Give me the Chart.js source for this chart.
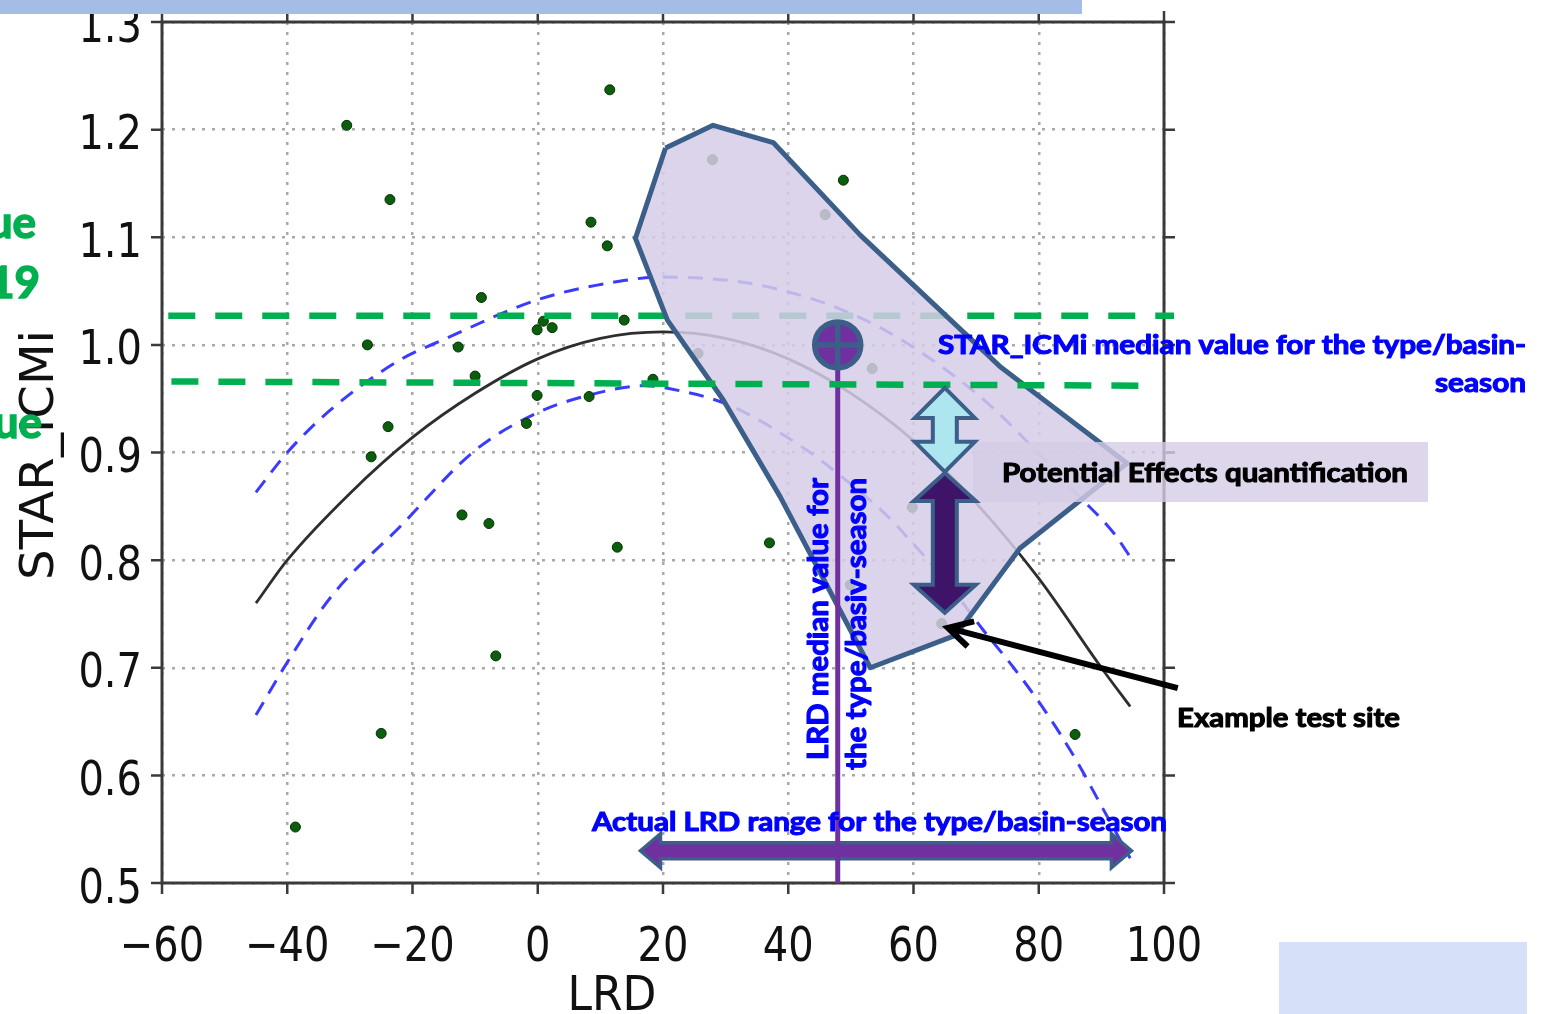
<!DOCTYPE html>
<html>
<head>
<meta charset="utf-8">
<title>STAR_ICMi vs LRD</title>
<script src="https://cdn.jsdelivr.net/npm/chart.js@4.4.1/dist/chart.umd.min.js"></script>
<style>
  html, body { margin: 0; padding: 0; background: #fff; overflow: hidden; }
  canvas { display: block; }
</style>
</head>
<body>
<canvas id="lrdChart" width="1548" height="1014"></canvas>
<script>
// ==================================================
// DATOS
// ==================================================

// sitios (puntos verdes)
const sitesLRD = [-38.7, -30.5, -27.2, -26.6, -25.0, -23.9, -23.6, -12.7, -12.1, -10.0, -9.0, -7.8, -6.7, -1.8, -0.1, -0.1, 0.9, 2.3, 8.2, 8.5, 11.1, 11.5, 12.7, 13.8, 18.4, 25.6, 27.9, 37.0, 45.9, 48.8, 49.9, 53.4, 59.8, 64.5, 85.8];
const sitesICM = [0.552, 1.204, 1.000, 0.896, 0.639, 0.924, 1.135, 0.998, 0.842, 0.971, 1.044, 0.834, 0.711, 0.927, 0.953, 1.014, 1.022, 1.016, 0.952, 1.114, 1.092, 1.237, 0.812, 1.023, 0.968, 0.992, 1.172, 0.816, 1.121, 1.153, 0.777, 0.978, 0.849, 0.741, 0.638];

// curva ajustada (negra) y bandas (azul discontinua)
const fitLRD = [-45, -40, -30, -20, -10, 0, 10, 20, 30, 40, 50, 60, 70, 80, 90, 94.6];
const fitICM = [0.760, 0.800, 0.862, 0.914, 0.955, 0.987, 1.006, 1.012, 1.006, 0.987, 0.955, 0.911, 0.853, 0.783, 0.700, 0.664];
const upperLRD = [-45, -40, -33, -22, -15, 0, 14, 20, 33, 42, 48, 55, 63, 72, 79, 86, 92, 94.6];
const upperICM = [0.863, 0.900, 0.940, 0.986, 1.005, 1.042, 1.060, 1.063, 1.058, 1.046, 1.034, 1.015, 0.986, 0.945, 0.905, 0.862, 0.825, 0.803];
const lowerLRD = [-45, -40, -33, -22, -10, 0, 8, 17, 23, 31, 43.5, 48, 56, 59.5, 65, 71, 76, 81, 86, 89.5, 94.6];
const lowerICM = [0.656, 0.705, 0.766, 0.831, 0.902, 0.937, 0.953, 0.962, 0.957, 0.943, 0.900, 0.880, 0.840, 0.818, 0.782, 0.736, 0.700, 0.660, 0.614, 0.577, 0.523];

// lineas verdes de referencia
const greenTopLRD = [-59, 101.6];
const greenTopICM = [1.027, 1.027];
const greenLowLRD = [-58.5, 99.1];
const greenLowICM = [0.966, 0.962];

// zona del tipo/cuenca-estacion
const zoneLRD = [20.4, 28.0, 37.6, 51.5, 73.8, 94.1, 77.0, 66.7, 53.1, 38.7, 29.6, 20.7, 15.6, 20.4];
const zoneICM = [1.183, 1.204, 1.188, 1.102, 0.980, 0.890, 0.811, 0.730, 0.700, 0.859, 0.949, 1.023, 1.099, 1.183];

// anotaciones
const medianLRD = 47.9;
const medianICM = 1.0;
const rangeLRD = [16.4, 94.8];
const rangeICM = 0.530;
const effectLRD = 65.0;
const effectUpper = [0.960, 0.882];
const effectLower = [0.881, 0.751];
const pointerLRD = [102.2, 65.5];
const pointerICM = [0.681, 0.737];

// ejes
const xTicks = [-60, -40, -20, 0, 20, 40, 60, 80, 100];
const xTickLabels = ['\u221260', '\u221240', '\u221220', '0', '20', '40', '60', '80', '100'];
const yTicks = [0.5, 0.6, 0.7, 0.8, 0.9, 1.0, 1.1, 1.2, 1.3];
const yTickLabels = ['0.5', '0.6', '0.7', '0.8', '0.9', '1.0', '1.1', '1.2', '1.3'];

const pts = (xs, ys) => xs.map((v, i) => ({ x: v, y: ys[i] }));

const EDGE = '#3c5f8a';
const PURPLE = '#7030a0';
const BLUE_TXT = '#0000ff';

// ==================================================
// UTILIDADES DE DIBUJO
// ==================================================

/** Texto ajustado a un ancho dado (escala horizontal), con trazo opcional para engrosar. */
function fitText(ctx, txt, x, y, w, font, color, align, rotate, heavy) {
    ctx.save();
    ctx.font = font;
    ctx.fillStyle = color;
    ctx.strokeStyle = color;
    ctx.textAlign = 'left';
    ctx.textBaseline = 'alphabetic';
    const m = ctx.measureText(txt).width;
    const off = align === 'right' ? -w : align === 'center' ? -w / 2 : 0;
    ctx.translate(x, y);
    if (rotate) ctx.rotate(-Math.PI / 2);
    ctx.translate(off, 0);
    ctx.scale(w / m, 1);
    ctx.fillText(txt, 0, 0);
    if (heavy) {
        ctx.lineWidth = heavy;
        ctx.lineJoin = 'round';
        ctx.strokeText(txt, 0, 0);
    }
    ctx.restore();
}

/** Texto estirado en vertical (etiquetas de ejes). */
function tallText(ctx, txt, x, y, align, font, sy) {
    ctx.save();
    ctx.font = font;
    ctx.fillStyle = '#111';
    ctx.textAlign = align;
    ctx.textBaseline = 'alphabetic';
    ctx.translate(x, y);
    ctx.scale(1, sy);
    ctx.fillText(txt, 0, 0);
    ctx.restore();
}

/** Flecha de doble punta, horizontal ('h') o vertical ('v'). */
function doubleArrow(ctx, dir, a, b, c, hw, bw, hl, fill, stroke, lw) {
    const p = (u, v) => dir === 'h' ? [u, v] : [v, u];
    const shape = [
        p(a, c), p(a + hl, c - hw), p(a + hl, c - bw), p(b - hl, c - bw), p(b - hl, c - hw),
        p(b, c), p(b - hl, c + hw), p(b - hl, c + bw), p(a + hl, c + bw), p(a + hl, c + hw)
    ];
    ctx.save();
    ctx.beginPath();
    shape.forEach((q, i) => i ? ctx.lineTo(q[0], q[1]) : ctx.moveTo(q[0], q[1]));
    ctx.closePath();
    ctx.fillStyle = fill;
    ctx.fill();
    ctx.lineWidth = lw;
    ctx.lineJoin = 'miter';
    ctx.strokeStyle = stroke;
    ctx.stroke();
    ctx.restore();
}

// ==================================================
// PLUGIN DE ANOTACIONES
// ==================================================
const annotate = {
    id: 'annotate',
    beforeDatasetsDraw(chart) {
        const { ctx, chartArea: a, scales: { x, y } } = chart;
        ctx.save();
        ctx.strokeStyle = '#3a3a3a';
        ctx.lineWidth = 3;
        ctx.strokeRect(a.left, a.top, a.right - a.left, a.bottom - a.top);
        ctx.lineWidth = 2.5;
        ctx.beginPath();
        xTicks.forEach(v => {
            const px = x.getPixelForValue(v);
            ctx.moveTo(px, a.bottom); ctx.lineTo(px, a.bottom + 11);
            ctx.moveTo(px, a.top); ctx.lineTo(px, a.top - 11);
        });
        yTicks.forEach(v => {
            const py = y.getPixelForValue(v);
            ctx.moveTo(a.left - 11, py); ctx.lineTo(a.left, py);
            ctx.moveTo(a.right, py); ctx.lineTo(a.right + 11, py);
        });
        ctx.stroke();
        ctx.restore();
    },
    afterDatasetDraw(chart, args) {
        if (chart.data.datasets[args.index].label !== 'zone') return;
        const { ctx, scales: { x, y } } = chart;
        // rango real de LRD
        doubleArrow(ctx, 'h', x.getPixelForValue(rangeLRD[0]), x.getPixelForValue(rangeLRD[1]),
            y.getPixelForValue(rangeICM), 17, 8, 20, PURPLE, EDGE, 3.5);
        // mediana
        const mx = x.getPixelForValue(medianLRD);
        const my = y.getPixelForValue(medianICM);
        ctx.save();
        ctx.strokeStyle = PURPLE;
        ctx.lineWidth = 5;
        ctx.beginPath();
        ctx.moveTo(mx, y.getPixelForValue(0.5));
        ctx.lineTo(mx, my + 22);
        ctx.stroke();
        ctx.beginPath();
        ctx.arc(mx, my, 23, 0, Math.PI * 2);
        ctx.fillStyle = PURPLE;
        ctx.fill();
        ctx.strokeStyle = EDGE;
        ctx.lineWidth = 5.5;
        ctx.stroke();
        ctx.beginPath();
        ctx.moveTo(mx - 22, my); ctx.lineTo(mx + 22, my);
        ctx.moveTo(mx, my - 22); ctx.lineTo(mx, my + 22);
        ctx.stroke();
        ctx.restore();
    },
    afterDatasetsDraw(chart) {
        const { ctx, scales: { x, y } } = chart;
        // caja de "Potential Effects"
        ctx.save();
        ctx.fillStyle = 'rgba(214, 204, 230, 0.8)';
        ctx.fillRect(973, 442, 455, 60);
        ctx.restore();

        const ex = x.getPixelForValue(effectLRD);
        doubleArrow(ctx, 'v', y.getPixelForValue(effectUpper[0]), y.getPixelForValue(effectUpper[1]),
            ex, 30, 12, 30, '#aee6ef', EDGE, 4);
        doubleArrow(ctx, 'v', y.getPixelForValue(effectLower[0]), y.getPixelForValue(effectLower[1]),
            ex, 31, 12, 28, '#3e1468', EDGE, 4);

        // flecha al sitio de ejemplo
        const sx = x.getPixelForValue(pointerLRD[0]), sy = y.getPixelForValue(pointerICM[0]);
        const tx = x.getPixelForValue(pointerLRD[1]), ty = y.getPixelForValue(pointerICM[1]);
        const ang = Math.atan2(sy - ty, sx - tx);
        ctx.save();
        ctx.strokeStyle = '#000';
        ctx.lineWidth = 6;
        ctx.lineCap = 'butt';
        ctx.beginPath();
        ctx.moveTo(sx, sy); ctx.lineTo(tx + 3 * Math.cos(ang), ty + 3 * Math.sin(ang));
        ctx.moveTo(tx + 27 * Math.cos(ang - 0.5), ty + 27 * Math.sin(ang - 0.5));
        ctx.lineTo(tx, ty);
        ctx.lineTo(tx + 27 * Math.cos(ang + 0.5), ty + 27 * Math.sin(ang + 0.5));
        ctx.stroke();
        ctx.restore();

        // textos
        fitText(ctx, 'STAR_ICMi median value for the type/basin-', 1526, 354, 588, 'bold 26px Lato', BLUE_TXT, 'right', false, 1.1);
        fitText(ctx, 'season', 1526, 392, 91, 'bold 26px Lato', BLUE_TXT, 'right', false, 1.1);
        fitText(ctx, 'Potential Effects quantification', 1002, 482, 406, 'bold 27px Lato', '#000', 'left', false, 1.1);
        fitText(ctx, 'Example test site', 1177, 727, 223, 'bold 27px Lato', '#000', 'left', false, 1.1);
        fitText(ctx, 'Actual LRD range for the type/basin-season', 592, 831, 575, 'bold 26px Lato', BLUE_TXT, 'left', false, 1.1);
        fitText(ctx, 'LRD median value for', 828, 760, 282, 'bold 28px Lato', BLUE_TXT, 'left', true, 1.1);
        fitText(ctx, 'the type/basiv-season', 866, 770, 292, 'bold 28px Lato', BLUE_TXT, 'left', true, 1.1);
    },
    afterDraw(chart) {
        const { ctx, scales: { x, y } } = chart;
        xTicks.forEach((v, i) => tallText(ctx, xTickLabels[i], x.getPixelForValue(v), 961, 'center', '40px "DejaVu Sans"', 1.2));
        yTicks.forEach((v, i) => tallText(ctx, yTickLabels[i], 142, y.getPixelForValue(v) + 19.5, 'right', '40px "DejaVu Sans"', 1.2));
        tallText(ctx, 'LRD', 612, 1010, 'center', '44px "DejaVu Sans"', 1.1);
        fitText(ctx, 'STAR_ICMi', 53, 455, 250, '47px "DejaVu Sans"', '#111', 'center', true);

        // restos de texto verde cortados a la izquierda
        ctx.save();
        ctx.font = 'bold 44px Lato';
        ctx.fillStyle = '#00b050';
        ctx.strokeStyle = '#00b050';
        ctx.lineWidth = 1.5;
        ctx.textAlign = 'right';
        [['ue', 36, 238], ['19', 40, 298], ['ue', 42, 438]].forEach(([t, tx, ty]) => {
            ctx.fillText(t, tx, ty);
            ctx.strokeText(t, tx, ty);
        });
        // bandas de la diapositiva
        ctx.fillStyle = '#a5bde6';
        ctx.fillRect(0, 0, 1082, 14);
        ctx.fillStyle = '#d6e0f8';
        ctx.fillRect(1279, 942, 248, 72);
        ctx.restore();
    }
};

// ==================================================
// GRAFICA
// ==================================================
const ctx = document.getElementById('lrdChart').getContext('2d');
new Chart(ctx, {
    type: 'scatter',
    data: {
        datasets: [
            {
                label: 'fit',
                data: pts(fitLRD, fitICM),
                showLine: true,
                borderColor: '#2e2e2e',
                borderWidth: 2.8,
                pointRadius: 0,
                cubicInterpolationMode: 'monotone',
                order: 9
            },
            {
                label: 'upper',
                data: pts(upperLRD, upperICM),
                showLine: true,
                borderColor: '#3b3bff',
                borderWidth: 3,
                borderDash: [15, 10],
                pointRadius: 0,
                cubicInterpolationMode: 'monotone',
                order: 8
            },
            {
                label: 'lower',
                data: pts(lowerLRD, lowerICM),
                showLine: true,
                borderColor: '#3b3bff',
                borderWidth: 3,
                borderDash: [15, 10],
                pointRadius: 0,
                cubicInterpolationMode: 'monotone',
                order: 8
            },
            {
                label: 'sites',
                data: pts(sitesLRD, sitesICM),
                pointRadius: 5,
                pointBackgroundColor: '#0b5e0b',
                pointBorderColor: '#062e06',
                pointBorderWidth: 1,
                order: 7
            },
            {
                label: 'greenTop',
                data: pts(greenTopLRD, greenTopICM),
                showLine: true,
                borderColor: '#00b050',
                borderWidth: 6.5,
                borderDash: [27, 20],
                pointRadius: 0,
                clip: false,
                order: 6
            },
            {
                label: 'zone',
                data: pts(zoneLRD, zoneICM),
                showLine: true,
                fill: 'shape',
                backgroundColor: 'rgba(214, 204, 230, 0.85)',
                borderColor: EDGE,
                borderWidth: 5,
                borderJoinStyle: 'round',
                pointRadius: 0,
                order: 5
            },
            {
                label: 'greenLow',
                data: pts(greenLowLRD, greenLowICM),
                showLine: true,
                borderColor: '#00b050',
                borderWidth: 6.5,
                borderDash: [27, 20],
                pointRadius: 0,
                clip: false,
                order: 3
            }
        ]
    },
    options: {
        responsive: false,
        animation: false,
        devicePixelRatio: 1,
        layout: { padding: { left: 162, top: 22, right: 384, bottom: 131 } },
        plugins: {
            legend: { display: false },
            tooltip: { enabled: false }
        },
        scales: {
            x: {
                type: 'linear',
                min: -60,
                max: 100,
                ticks: { display: false, stepSize: 20 },
                grid: { color: '#a8a8a8', lineWidth: 2.5, drawTicks: false },
                border: { display: false, dash: [3, 7] }
            },
            y: {
                type: 'linear',
                min: 0.5,
                max: 1.3,
                ticks: { display: false, stepSize: 0.1 },
                grid: { color: '#a8a8a8', lineWidth: 2.5, drawTicks: false },
                border: { display: false, dash: [3, 7] }
            }
        }
    },
    plugins: [annotate]
});
</script>
</body>
</html>
